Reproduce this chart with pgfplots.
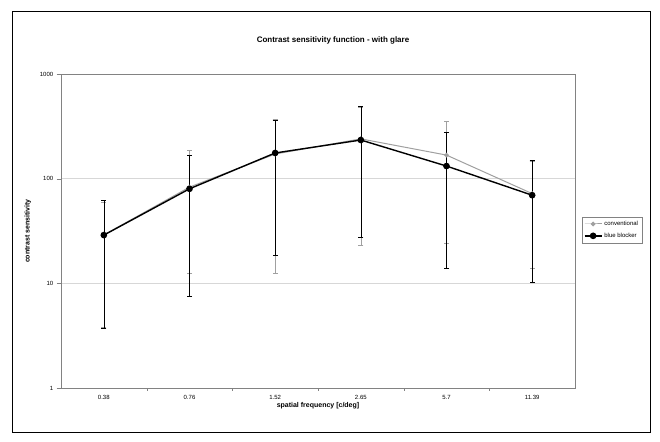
\documentclass[border=0pt]{standalone}
\usepackage{fontspec}
\setmainfont{Liberation Sans}
\usepackage{pgfplots}
\pgfplotsset{compat=1.18}
\definecolor{convgray}{RGB}{160,160,160}
\definecolor{gridgray}{RGB}{215,215,215}
\definecolor{framegray}{RGB}{130,130,130}
\begin{document}
\begin{tikzpicture}[x=1pt,y=1pt]
% page and chart frame, in pixel units (y down)
\fill[white] (0,0) rectangle (660,-441);
\draw[black, line width=0.8pt] (12,-11) rectangle (650,-432);
\node[font=\fontsize{8}{9}\selectfont\bfseries] at (333,-40) {Contrast sensitivity function - with glare};
\begin{axis}[
    at={(61pt,-388pt)}, anchor=south west,
    scale only axis, width=514pt, height=314pt,
    ymode=log, ymin=1, ymax=1000,
    ytick={1,10,100,1000}, yticklabels={1,10,100,1000},
    yminorticks=false,
    xmin=-0.5, xmax=5.5,
    xtick={0,...,5},
    xticklabels={0.38,0.76,1.52,2.65,5.7,11.39},
    major x tick style={draw=none},
    minor xtick={0.5,1.5,2.5,3.5,4.5},
    minor x tick style={framegray},
    xtick pos=bottom, ytick pos=left,
    tick align=outside,
    ymajorgrids, major grid style={gridgray, line width=0.8pt},
    axis line style={framegray, line width=0.8pt},
    ticklabel style={font=\fontsize{6}{7}\selectfont},
    xlabel={\bfseries spatial frequency [c/deg]},
    ylabel={\bfseries contrast sensitivity},
    label style={font=\fontsize{7}{8}\selectfont},
    xlabel style={yshift=4pt},
    ylabel style={yshift=2pt},
    legend style={at={(1.013,0.545)}, anchor=north west, draw=framegray,
      font=\fontsize{6}{7}\selectfont, inner sep=2pt, row sep=2pt,
      cells={anchor=west}},
    legend cell align=left,
    clip=false,
]
\addplot[convgray, line width=1pt, mark=*, mark size=1.8pt,
  mark options={fill=convgray, draw=convgray},
  error bars/.cd, y dir=both, y explicit,
  error bar style={convgray, line width=0.6pt},
  error mark options={rotate=90, mark size=2.5pt, convgray, line width=0.6pt}]
coordinates {
(0,29)  += (0,31)  -= (0,25.2)
(1,83)  += (0,104) -= (0,70.5)
(2,172) += (0,199) -= (0,159.5)
(3,240) += (0,245) -= (0,217)
(4,168) += (0,187) -= (0,144)
(5,72)  += (0,73)  -= (0,58)
};
\addlegendentry{conventional}
\addplot[black, line width=1.4pt, mark=*, mark size=2.6pt,
  error bars/.cd, y dir=both, y explicit,
  error bar style={black, line width=0.6pt},
  error mark options={rotate=90, mark size=2.5pt, black, line width=0.6pt}]
coordinates {
(0,28.9) += (0,33.6) -= (0,25.2)
(1,80)   += (0,88)   -= (0,72.4)
(2,176)  += (0,184)  -= (0,157.4)
(3,234)  += (0,259)  -= (0,206.3)
(4,132)  += (0,147)  -= (0,118)
(5,69.5) += (0,80.5) -= (0,59.2)
};
\addlegendentry{blue blocker}
\end{axis}
\end{tikzpicture}
\end{document}
